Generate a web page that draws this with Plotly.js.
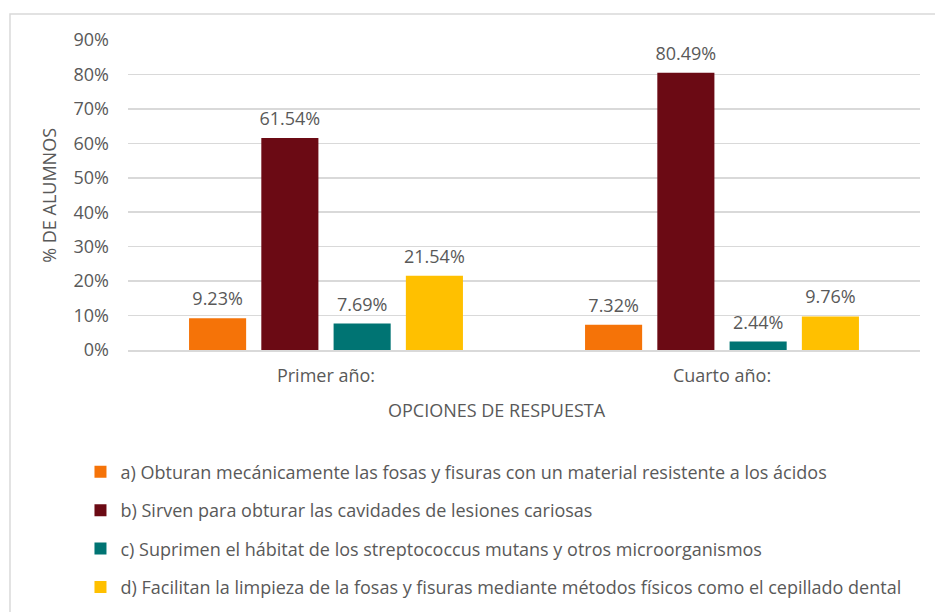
<!DOCTYPE html>
<html><head><meta charset="utf-8">
<script src="https://cdn.plot.ly/plotly-3.0.1.min.js"></script>
<style>body{margin:0;background:#fff}#c{width:935px;height:612px}</style>
</head><body><div id="c"></div>
<script>
const categories = ["Primer año:", "Cuarto año:"];
const seriesNames = [
  "a) Obturan mecánicamente las fosas y fisuras con un material resistente a los ácidos",
  "b) Sirven para obturar las cavidades de lesiones cariosas",
  "c) Suprimen el hábitat de los streptococcus mutans y otros microorganismos",
  "d) Facilitan la limpieza de la fosas y fisuras mediante métodos físicos como el cepillado dental"
];
const seriesA = [0.0923, 0.0732];
const seriesB = [0.6154, 0.8049];
const seriesC = [0.0769, 0.0244];
const seriesD = [0.2154, 0.0976];
const yTicks = [0, 0.1, 0.2, 0.3, 0.4, 0.5, 0.6, 0.7, 0.8, 0.9];
const colors = ["#F57308", "#6B0A14", "#007473", "#FFC000"];
const FONT = "'Open Sans', Lato, sans-serif";
const TXT = "#595959";
const FS = 18;

const allSeries = [seriesA, seriesB, seriesC, seriesD];
const barTraces = allSeries.map((vals, i) => ({
  type: "bar",
  name: seriesNames[i],
  legendgroup: "g" + i,
  x: categories,
  y: vals,
  marker: {color: colors[i]},
  hoverinfo: "skip"
}));
const labelTraces = allSeries.map((vals, i) => ({
  type: "scatter",
  mode: "markers+text",
  showlegend: false,
  legendgroup: "g" + i,
  x: categories,
  y: vals,
  marker: {size: 12, color: "rgba(0,0,0,0)"},
  text: vals.map(v => (v * 100).toFixed(2) + "%"),
  textposition: "top center",
  textfont: {family: FONT, size: FS, color: TXT},
  cliponaxis: false,
  hoverinfo: "skip"
}));

const layout = {
  width: 935, height: 612,
  margin: {l: 128, r: 15, t: 40, b: 262, autoexpand: false},
  paper_bgcolor: "#fff", plot_bgcolor: "#fff",
  font: {family: FONT, size: FS, color: TXT},
  barmode: "group",
  bargap: 0.27,
  bargroupgap: 0.21,
  scattermode: "group",
  scattergap: 0.27,
  xaxis: {
    type: "category", automargin: false,
    showline: true, linecolor: "#D9D9D9", linewidth: 1.5,
    ticks: "", tickfont: {family: FONT, size: FS, color: TXT},
    ticklabelstandoff: 9,
    showgrid: false
  },
  yaxis: {
    range: [0, 0.9], automargin: false,
    tickvals: yTicks,
    tickformat: ".0%",
    showgrid: true, gridcolor: "#D9D9D9", gridwidth: 1.5,
    zeroline: false, showline: false,
    ticks: "", ticklabelstandoff: 18,
    tickfont: {family: FONT, size: FS, color: TXT}
  },
  showlegend: true,
  legend: {
    orientation: "v",
    x: -0.06, xanchor: "left",
    y: -0.334, yanchor: "top",
    font: {family: FONT, size: FS, color: TXT},
    traceorder: "grouped",
    tracegroupgap: 12,
    itemclick: false
  },
  annotations: [
    {text: "% DE ALUMNOS", xref: "paper", yref: "paper", x: -0.1, y: 0.5,
     textangle: -90, showarrow: false, xanchor: "center", yanchor: "middle",
     font: {family: FONT, size: FS, color: TXT}},
    {text: "OPCIONES DE RESPUESTA", xref: "paper", yref: "paper", x: 0.466, y: -0.195,
     showarrow: false, xanchor: "center", yanchor: "middle",
     font: {family: FONT, size: FS, color: TXT}}
  ],
  shapes: [
    {type: "rect", xref: "paper", yref: "paper", x0: -0.149, x1: 1.03, y0: -0.9, y1: 1.084,
     line: {color: "#D9D9D9", width: 1.5}, fillcolor: "rgba(0,0,0,0)", layer: "below"}
  ]
};

Plotly.newPlot("c", barTraces.concat(labelTraces), layout, {displayModeBar: false, staticPlot: true});
</script></body></html>
